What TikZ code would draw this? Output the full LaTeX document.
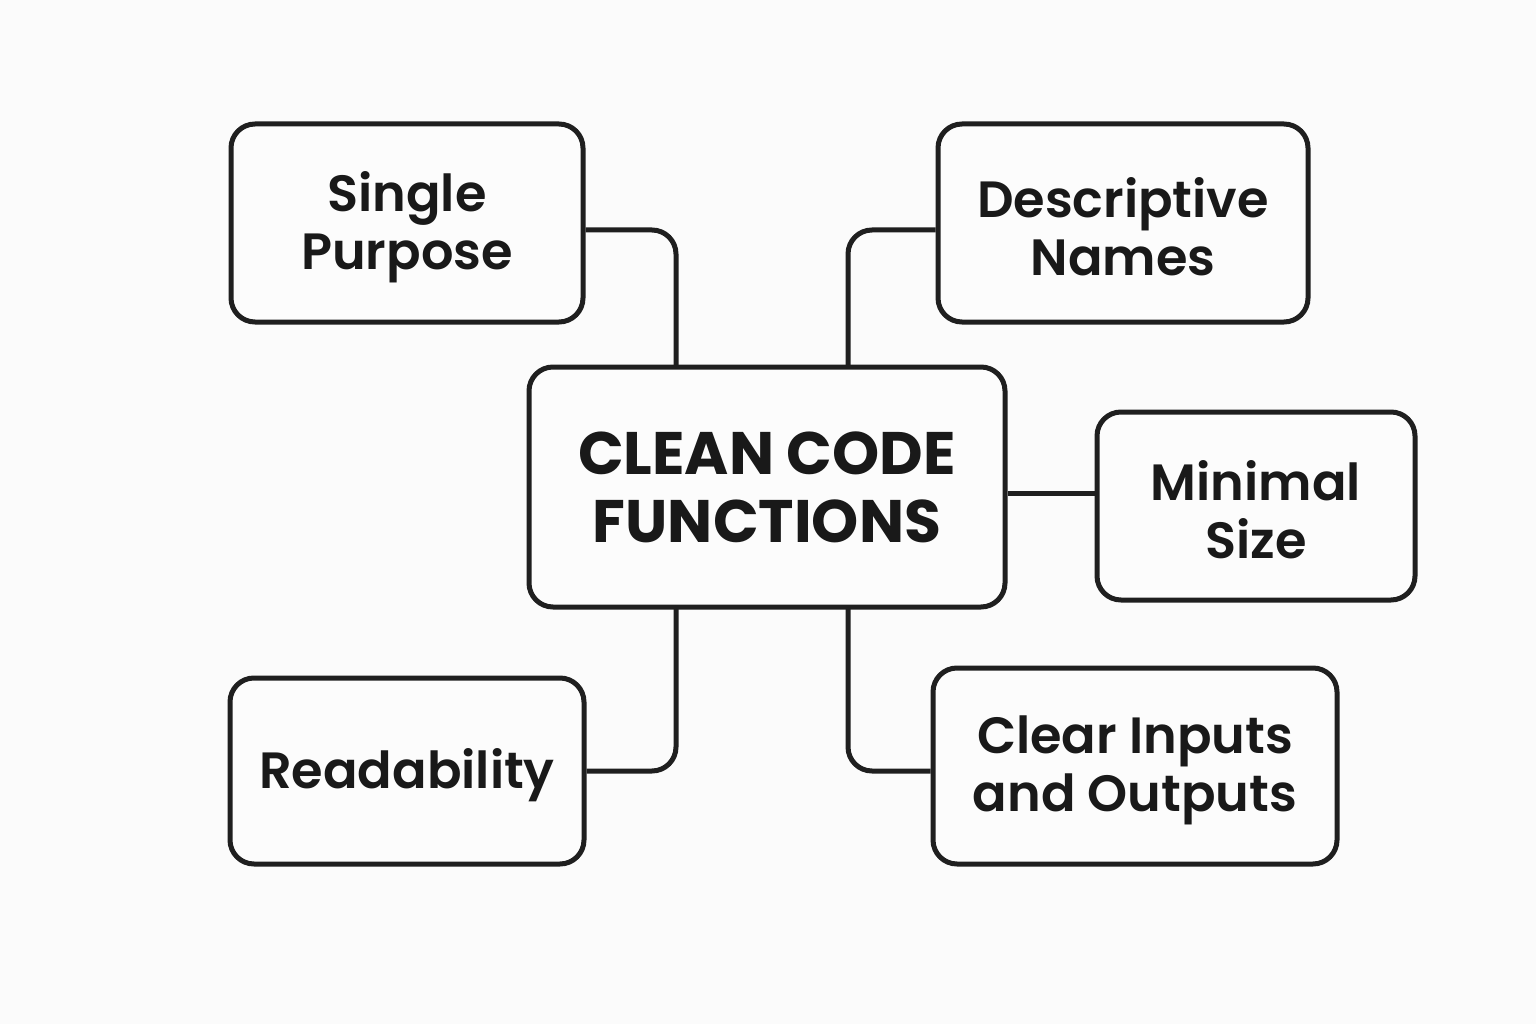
\documentclass[tikz,border=0pt]{standalone}
\usepackage{fontspec}
\setmainfont{Poppins}[UprightFont=* SemiBold, BoldFont=* Bold]
\begin{document}
\begin{tikzpicture}[x=1pt,y=-1pt,
  box/.style={draw=black!88, line width=5pt, rounded corners=24pt, fill=white!99!black, align=center, inner sep=0pt},
  lbl/.style={font=\fontsize{51}{58}\selectfont, text=black!90, yshift=-4pt},
  title/.style={font=\fontsize{60}{68}\selectfont\bfseries, text=black!90, align=center},
  conn/.style={draw=black!88, line width=5pt, rounded corners=24pt}]
\fill[white!98.5!black] (0,0) rectangle (1536,1024);
\useasboundingbox (0,0) rectangle (1536,1024);
% boxes
\node[box, minimum width=352pt, minimum height=198pt] (sp) at (407,223) {};
\node[lbl, align=center] at (sp.center) {Single\\Purpose};
\node[box, minimum width=370pt, minimum height=198pt] (dn) at (1123,223) {};
\node[lbl, align=center] at (dn.center) {Descriptive\\Names};
\node[box, minimum width=476pt, minimum height=240pt] (cc) at (767,487) {};
\node[title] at (cc.center) {CLEAN CODE\\FUNCTIONS};
\node[box, minimum width=318pt, minimum height=188pt] (ms) at (1256,506) {};
\node[lbl, align=center] at (ms.center) {Minimal\\Size};
\node[box, minimum width=354pt, minimum height=186pt] (rd) at (407,771) {};
\node[lbl] at (rd.center) {Readability};
\node[box, minimum width=404pt, minimum height=196pt] (ci) at (1135,766) {};
\node[lbl, align=center] at (ci.center) {Clear Inputs\\and Outputs};
% connectors
\coordinate (a1) at (676,366);
\draw[conn] (sp.east |- 0,230) -| (a1);
\coordinate (a2) at (848,366);
\draw[conn] (dn.west |- 0,230) -| (a2);
\draw[conn] (cc.east |- 0,493) -- (ms.west |- 0,493);
\coordinate (a3) at (676,608);
\draw[conn] (a3) |- (rd.east |- 0,771);
\coordinate (a4) at (848,608);
\draw[conn] (a4) |- (ci.west |- 0,771);
\end{tikzpicture}
\end{document}
